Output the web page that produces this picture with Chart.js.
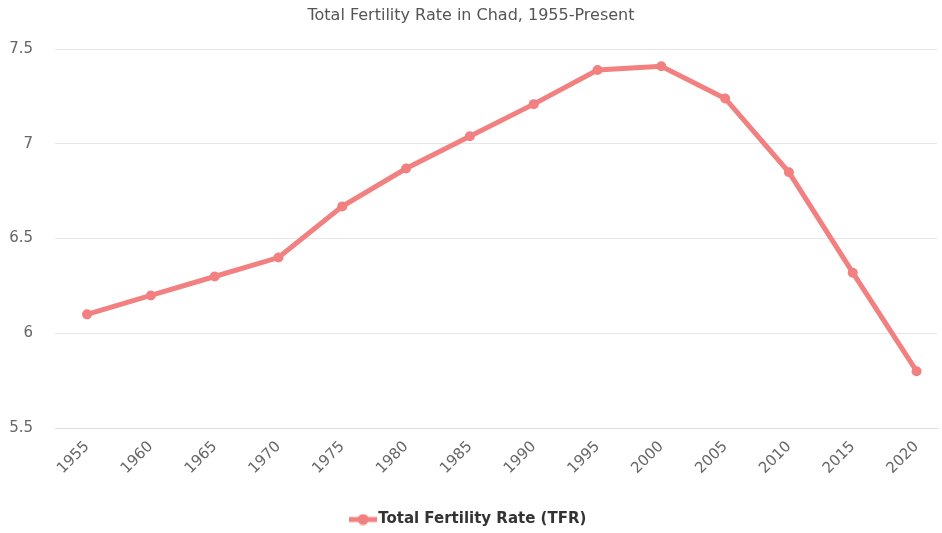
<!DOCTYPE html>
<html>
<head>
<meta charset="utf-8">
<script src="https://cdn.jsdelivr.net/npm/chart.js@4"></script>
<style>
  html, body { margin: 0; padding: 0; background: #fff; }
  #wrap { width: 942px; height: 533px; }
</style>
</head>
<body>
<div id="wrap"><canvas id="myChart" width="942" height="533"></canvas></div>
<script>
const years = [1955, 1960, 1965, 1970, 1975, 1980, 1985, 1990, 1995, 2000, 2005, 2010, 2015, 2020];
const tfr = [6.10, 6.20, 6.30, 6.40, 6.67, 6.87, 7.04, 7.21, 7.39, 7.41, 7.24, 6.85, 6.32, 5.80];
const yTicks = [5.5, 6, 6.5, 7, 7.5];

const lineColor = 'rgb(242, 128, 128)';

// legend symbol: short line with a dot, like the reference
const makeSymbol = () => {
  const c = document.createElement('canvas');
  c.width = 28;
  c.height = 12;
  const ctx = c.getContext('2d');
  ctx.strokeStyle = lineColor;
  ctx.lineWidth = 5;
  ctx.beginPath();
  ctx.moveTo(0, 6);
  ctx.lineTo(28, 6);
  ctx.stroke();
  ctx.fillStyle = lineColor;
  ctx.beginPath();
  ctx.arc(14, 6, 5.5, 0, Math.PI * 2);
  ctx.fill();
  return c;
};

const data = {
  datasets: [{
    label: 'Total Fertility Rate (TFR)',
    data: years.map((y, i) => ({ x: y, y: tfr[i] })),
    borderColor: lineColor,
    backgroundColor: lineColor,
    borderWidth: 5,
    pointRadius: 5,
    pointStyle: 'circle',
    pointBackgroundColor: lineColor,
    pointBorderWidth: 0,
    tension: 0
  }]
};

const config = {
  type: 'line',
  data: data,
  options: {
    responsive: false,
    animation: false,
    layout: { padding: { left: 0, right: 0, top: 0, bottom: -4 } },
    plugins: {
      title: {
        display: true,
        text: 'Total Fertility Rate in Chad, 1955-Present',
        color: '#555',
        font: { family: 'DejaVu Sans', size: 16, weight: 'normal' },
        padding: { top: 6, bottom: 24 }
      },
      legend: {
        position: 'bottom',
        labels: {
          color: '#333',
          font: { family: 'DejaVu Sans', size: 15, weight: 'bold' },
          usePointStyle: true,
          generateLabels: (chart) => [{
            text: chart.data.datasets[0].label,
            pointStyle: makeSymbol(),
            fontColor: '#333',
            lineWidth: 0,
            datasetIndex: 0
          }],
          padding: 4
        }
      },
      tooltip: { enabled: false }
    },
    scales: {
      x: {
        type: 'linear',
        min: 1952.49,
        max: 2021.6,
        afterBuildTicks: (axis) => { axis.ticks = years.map(v => ({ value: v })); },
        afterFit: (axis) => { axis.height = 80; },
        grid: { display: false, drawTicks: false },
        border: { color: '#dcdce6', width: 1 },
        ticks: {
          color: '#666',
          font: { family: 'DejaVu Sans', size: 15 },
          maxRotation: 45,
          minRotation: 45,
          padding: 10,
          autoSkip: false,
          callback: (v) => String(v)
        }
      },
      y: {
        min: 5.5,
        max: 7.5,
        afterFit: (axis) => { axis.width = 55; },
        afterBuildTicks: (axis) => { axis.ticks = yTicks.map(v => ({ value: v })); },
        grid: { color: '#e6e6e6', drawTicks: false },
        border: { display: false },
        ticks: {
          color: '#666',
          font: { family: 'DejaVu Sans', size: 15 },
          padding: 22,
          callback: (v) => String(v)
        }
      }
    }
  }
};

const myChart = new Chart(document.getElementById('myChart'), config);
</script>
</body>
</html>
